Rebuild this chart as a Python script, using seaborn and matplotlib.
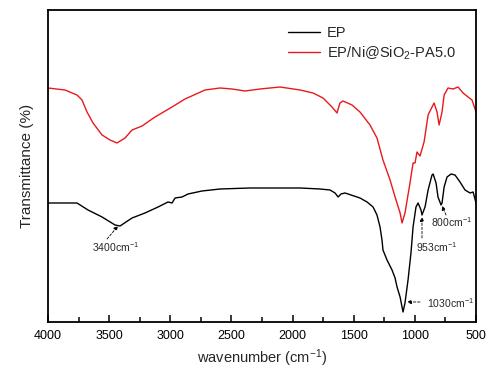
import numpy as np
import pandas as pd
import matplotlib
matplotlib.use("Agg")
import matplotlib.pyplot as plt
import seaborn as sns
from matplotlib.ticker import MultipleLocator

# ---- data (transmittance in arbitrary units) ----
red_wn = [4000, 3861, 3763, 3722, 3681, 3632, 3558, 3493, 3436, 3370,
          3313, 3231, 3125, 2986, 2880, 2716, 2593, 2495, 2389, 2266,
          2103, 1939, 1833, 1751, 1678, 1637, 1613, 1588, 1514, 1449,
          1367, 1310, 1261, 1203, 1162, 1121, 1105, 1081, 1040, 1015,
          999, 983, 958, 925, 892, 860, 843, 819, 802, 778,
          761, 729, 688, 647, 606, 565, 533, 500]
red_t = [281, 279, 274, 269, 257, 246, 234, 229, 226, 231,
         239, 243, 252, 262, 270, 279, 281, 280, 278, 280,
         282, 279, 276, 271, 262, 256, 266, 268, 264, 257,
         244, 231, 209, 189, 172, 156, 146, 156, 186, 206,
         206, 217, 213, 227, 254, 262, 266, 257, 244, 257,
         274, 281, 280, 282, 276, 272, 269, 257]

ep_wn = [4000, 3763, 3673, 3558, 3452, 3411, 3313, 3207, 3100, 3019,
         2986, 2961, 2904, 2855, 2741, 2593, 2348, 2103, 1939, 1776,
         1694, 1653, 1628, 1604, 1571, 1449, 1391, 1342, 1310, 1285,
         1269, 1261, 1228, 1187, 1162, 1146, 1121, 1097, 1081, 1056,
         1032, 1015, 991, 974, 950, 942, 917, 892, 860, 851,
         827, 811, 786, 778, 761, 737, 704, 672, 631, 590,
         549, 524, 500]
ep_t = [166, 166, 159, 152, 144, 143, 151, 156, 162, 167,
        166, 171, 172, 175, 178, 180, 181, 181, 181, 180,
        179, 176, 172, 175, 176, 171, 167, 162, 154, 142,
        129, 119, 109, 99, 91, 82, 72, 57, 66, 89,
        116, 142, 162, 166, 159, 154, 162, 179, 194, 195,
        186, 172, 164, 166, 182, 192, 195, 194, 187, 179,
        176, 177, 166]

series_names = ["EP", "EP/Ni@SiO$_2$-PA5.0"]
series_colors = ["black", "#e8191c"]
x_ticks = [4000, 3500, 3000, 2500, 2000, 1500, 1000, 500]

df = pd.concat([
    pd.DataFrame({"wn": ep_wn, "t": ep_t, "s": series_names[0]}),
    pd.DataFrame({"wn": red_wn, "t": red_t, "s": series_names[1]}),
])

sns.set_style("ticks")
plt.rcParams["font.family"] = ["Liberation Sans", "DejaVu Sans"]
plt.rcParams["mathtext.fontset"] = "custom"
plt.rcParams["mathtext.rm"] = "Liberation Sans"
plt.rcParams["mathtext.it"] = "Liberation Sans:italic"
plt.rcParams["xtick.direction"] = "in"
plt.rcParams["xtick.color"] = "black"
plt.rcParams["xtick.major.size"] = 5
plt.rcParams["xtick.minor.size"] = 3.5
plt.rcParams["xtick.major.width"] = 1.1
plt.rcParams["xtick.minor.width"] = 1.1

fig = plt.figure(figsize=(4.86, 3.69), dpi=100)
ax = fig.add_axes([0.0988, 0.1274, 0.8807, 0.8455])

sns.lineplot(data=df, x="wn", y="t", hue="s", palette=dict(zip(series_names, series_colors)),
             sort=False, estimator=None, lw=1.0, ax=ax)
for ln in ax.lines:
    ln.set_solid_joinstyle("round")

ax.set_xlim(4000, 500)
ax.set_ylim(47, 359)
ax.set_xticks(x_ticks)
ax.set_xticklabels([str(v) for v in x_ticks], fontsize=9)
ax.xaxis.set_minor_locator(MultipleLocator(250))
ax.tick_params(axis="x", which="both", direction="in", top=False, bottom=True)
ax.tick_params(axis="x", which="major", pad=6)
ax.set_yticks([])
for sp in ax.spines.values():
    sp.set_linewidth(1.3)
    sp.set_color("black")

ax.set_xlabel("wavenumber (cm$^{-1}$)", fontsize=10.5, labelpad=4)
ax.set_ylabel("Transmittance (%)", fontsize=11, labelpad=10)

leg = ax.legend(loc="upper left", bbox_to_anchor=(0.561, 0.948), frameon=False,
                fontsize=10.5, handlelength=2.2, handletextpad=0.45, labelspacing=0.3,
                borderpad=0, borderaxespad=0)

ap = dict(arrowstyle="-|>", linestyle=(0, (3, 2)), lw=0.6, color="black",
          mutation_scale=6, shrinkA=0, shrinkB=0)
fs = 7.5
ax.annotate("", xy=(3428, 143), xytext=(3517, 130), arrowprops=ap)
ax.text(3444, 122, "3400cm$^{-1}$", fontsize=fs, ha="center", va="center")
ax.annotate("", xy=(942, 152), xytext=(942, 131), arrowprops=ap)
ax.text(819, 122, "953cm$^{-1}$", fontsize=fs, ha="center", va="center")
ax.annotate("", xy=(778, 163), xytext=(745, 154), arrowprops=ap)
ax.text(700, 147, "800cm$^{-1}$", fontsize=fs, ha="center", va="center")
ax.annotate("", xy=(1064, 67), xytext=(958, 67), arrowprops=ap)
ax.text(905, 66, "1030cm$^{-1}$", fontsize=fs, ha="left", va="center")

fig.savefig("out.png", dpi=100)
